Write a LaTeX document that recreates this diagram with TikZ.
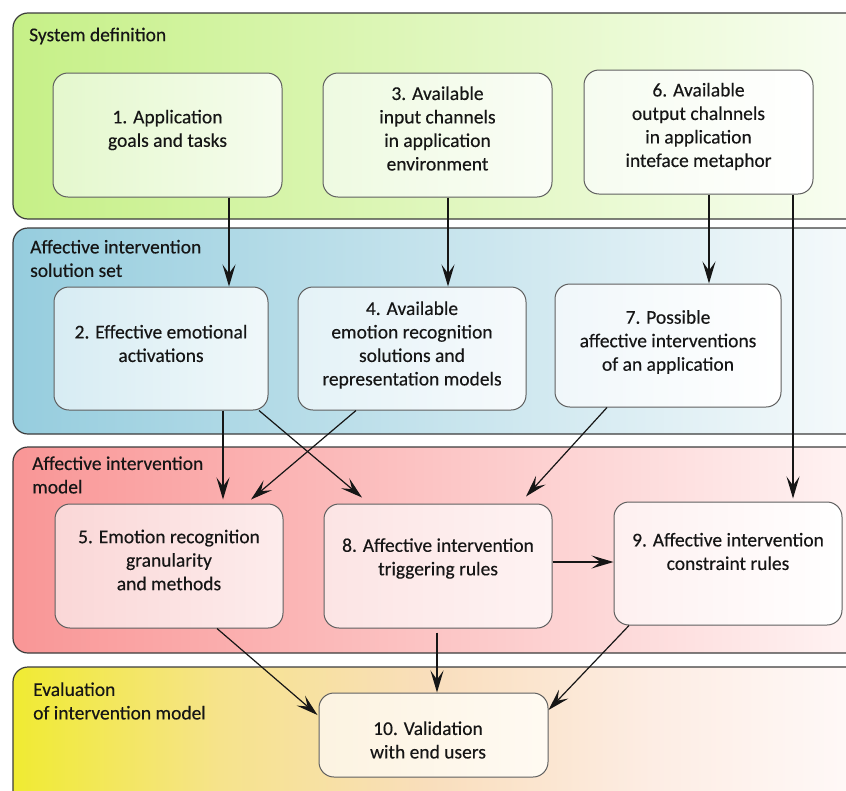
\documentclass[tikz,border=0pt]{standalone}
\usepackage{fontspec}
\setmainfont{Carlito}[FakeBold=0.3]
\usetikzlibrary{arrows.meta}
\definecolor{laneA}{RGB}{198,240,135}
\definecolor{laneAr}{RGB}{250,254,245}
\definecolor{laneB}{RGB}{150,205,222}
\definecolor{laneBr}{RGB}{248,251,252}
\definecolor{laneC}{RGB}{249,150,150}
\definecolor{laneCr}{RGB}{255,246,246}
\definecolor{laneDa}{RGB}{240,235,50}
\definecolor{laneDb}{RGB}{246,227,140}
\definecolor{laneDc}{RGB}{249,222,188}
\definecolor{laneDd}{RGB}{253,237,228}
\definecolor{laneDe}{RGB}{255,250,250}
\pgfdeclarehorizontalshading{laneDshade}{100bp}{color(0bp)=(laneDa); color(25bp)=(laneDa); color(37bp)=(laneDb); color(49bp)=(laneDc); color(62bp)=(laneDd); color(75bp)=(laneDe); color(100bp)=(laneDe)}
\definecolor{laneline}{RGB}{60,60,60}
\definecolor{boxline}{RGB}{95,95,95}
\definecolor{ink}{RGB}{22,22,22}
\tikzset{
  lane/.style={draw=laneline, line width=1.2pt, rounded corners=15pt},
  box/.style={draw=boxline, line width=1pt, rounded corners=15pt, inner sep=0pt},
  txt/.style={text=ink, align=center, font=\fontsize{19.5}{23.5}\selectfont, inner sep=0pt},
  lanelabel/.style={text=ink, align=left, anchor=west, font=\fontsize{19.5}{23.5}\selectfont, inner sep=0pt},
  arr/.style={draw=ink, line width=1.2pt, -{Stealth[length=22pt,width=13pt,inset=9pt]}},
}
\begin{document}
\begin{tikzpicture}[x=1pt,y=-1pt]
\useasboundingbox (0,0) rectangle (846,790);
\clip (0,0) rectangle (846,790);
\fill[white] (0,0) rectangle (846,790);
% lanes
\shade[lane, left color=laneA, right color=laneAr] (13,13) rectangle (880,219);
\shade[lane, left color=laneB, right color=laneBr] (13,228) rectangle (880,434);
\shade[lane, left color=laneC, right color=laneCr] (13,447) rectangle (880,653);
\shade[lane, shading=laneDshade] (13,667) rectangle (880,830);
\node[lanelabel] (l1) at (29,36) {System definition};
\node[lanelabel] (l2) at (30,258.5) {Affective intervention\\solution set};
\node[lanelabel] (l3) at (32,475) {Affective intervention\\model};
\node[lanelabel] (l4) at (33,701) {Evaluation\\of intervention model};
% boxes
\node[box, minimum width=229pt, minimum height=124pt, left color={rgb,255:red,228;green,248;blue,205}, right color={rgb,255:red,246;green,252;blue,238}] (n1) at (167.5,135) {};
\node[box, minimum width=229pt, minimum height=124pt, left color={rgb,255:red,238;green,250;blue,225}, right color={rgb,255:red,250;green,253;blue,246}] (n3) at (437.5,135) {};
\node[box, minimum width=229pt, minimum height=124pt, left color={rgb,255:red,246;green,252;blue,240}, right color=white] (n6) at (698.5,132) {};
\node[box, minimum width=214pt, minimum height=123pt, left color={rgb,255:red,215;green,236;blue,243}, right color={rgb,255:red,240;green,248;blue,250}] (n2) at (161,348.5) {};
\node[box, minimum width=228pt, minimum height=123pt, left color={rgb,255:red,228;green,242;blue,247}, right color={rgb,255:red,246;green,250;blue,252}] (n4) at (412,348.5) {};
\node[box, minimum width=226pt, minimum height=123pt, left color={rgb,255:red,240;green,247;blue,250}, right color=white] (n7) at (668,345.5) {};
\node[box, minimum width=228pt, minimum height=124pt, left color={rgb,255:red,250;green,215;blue,215}, right color={rgb,255:red,253;green,236;blue,236}] (n5) at (169,566) {};
\node[box, minimum width=228pt, minimum height=124pt, left color={rgb,255:red,252;green,228;blue,228}, right color={rgb,255:red,254;green,243;blue,243}] (n8) at (438,566) {};
\node[box, minimum width=228pt, minimum height=123pt, left color={rgb,255:red,254;green,240;blue,240}, right color=white] (n9) at (728,563.5) {};
\node[box, minimum width=229pt, minimum height=84pt, left color={rgb,255:red,252;green,243;blue,225}, right color={rgb,255:red,255;green,250;blue,242}] (n10) at (433.5,735) {};
% texts
\node[txt] (t1) at (167.5,130) {1. Application\\goals and tasks};
\node[txt] (t3) at (437.5,128.5) {3. Available\\input channels\\in application\\environment};
\node[txt] (t6) at (698.5,126.5) {6. Available\\output chalnnels\\in application\\inteface metaphor};
\node[txt] (t2) at (161,343.5) {2. Effective emotional\\activations};
\node[txt] (t4) at (412,345) {4. Available\\emotion recognition\\solutions and\\representation models};
\node[txt] (t7) at (668,342) {7. Possible\\affective interventions\\of an application};
\node[txt] (t5) at (169,560) {5. Emotion recognition\\granularity\\and methods};
\node[txt] (t8) at (438,558.5) {8. Affective intervention\\triggering rules};
\node[txt] (t9) at (728,551.5) {9. Affective intervention\\constraint rules};
\node[txt] (t10) at (428,740) {10. Validation\\with end users};
% connectors
\draw[arr] (n1.south -| 229,0) -- (n2.north -| 229,0);
\draw[arr] (n3.south -| 448,0) -- (n4.north -| 448,0);
\draw[arr] (n6.south -| 709,0) -- (n7.north -| 709,0);
\draw[arr] (n6.south -| 793,0) -- ([yshift=3pt]n9.north -| 793,0);
\draw[arr] (n2.south -| 223,0) -- ([yshift=4pt]n5.north -| 223,0);
\draw[arr] (n2.south -| 259,0) -- ([yshift=6pt]n8.north -| 362,0);
\draw[arr] (n4.south -| 356,0) -- ([yshift=4pt]n5.north -| 251,0);
\draw[arr] (n7.south -| 607,0) -- ([yshift=7pt]n8.north -| 526,0);
\draw[arr] (n8.east |- 0,562) -- (n9.west |- 0,562);
\draw[arr] (n5.south -| 217,0) -- ([xshift=-1pt]n10.west |- 0,715);
\draw[arr] ([yshift=-4pt]n8.south -| 437,0) -- (n10.north -| 437,0);
\draw[arr] (n9.south -| 629,0) -- (n10.east |- 0,710);
\end{tikzpicture}
\end{document}
